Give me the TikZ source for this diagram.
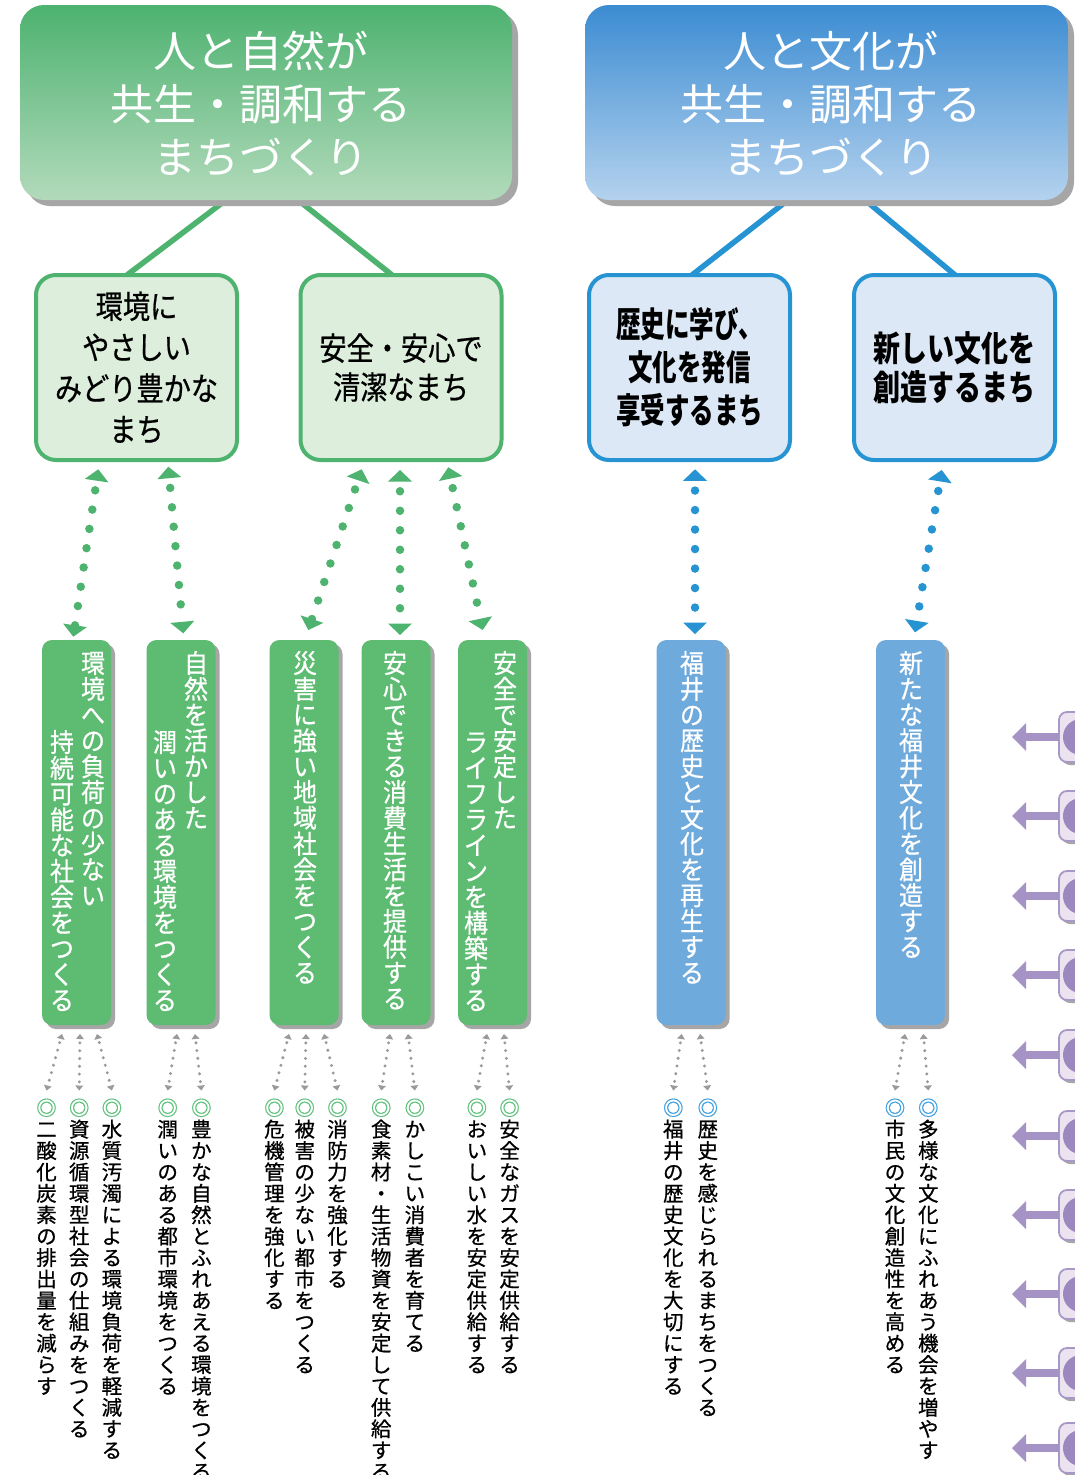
\documentclass[tikz,border=0pt]{standalone}
\usepackage{fontspec}
\usetikzlibrary{arrows.meta,calc,shadows,backgrounds}
\setmainfont{Noto Sans CJK JP}
\newfontfamily\jp{Noto Sans CJK JP}
\newfontfamily\jpb[FakeBold=0.7]{Noto Sans CJK JP}
\newfontfamily\jpa[FakeStretch=0.85,FakeBold=0.6]{Noto Sans CJK JP}
\newfontfamily\jpc[FakeStretch=0.70]{Noto Sans CJK JP}
\newfontfamily\jpd[FakeStretch=0.77]{Noto Sans CJK JP}
\newfontfamily\jpv[FakeStretch=0.92,FakeBold=0.7]{Noto Sans CJK JP}

\definecolor{gline}{HTML}{4DB36E}
\definecolor{gbar}{HTML}{5EBC72}
\definecolor{glight}{HTML}{DDEEDD}
\definecolor{gtop}{HTML}{4DB270}
\definecolor{gbot}{HTML}{B2DABB}
\definecolor{bline}{HTML}{2693D3}
\definecolor{bbar}{HTML}{6FAADC}
\definecolor{blight}{HTML}{DCE8F6}
\definecolor{btop}{HTML}{3C8CD2}
\definecolor{bbot}{HTML}{B4D2EE}
\definecolor{shadowgray}{HTML}{A6A6A6}
\definecolor{dotgray}{HTML}{9A9A9A}
\definecolor{gcirc}{HTML}{5CC07A}
\definecolor{bcirc}{HTML}{3C9FE0}
\definecolor{parrow}{HTML}{A493C4}
\definecolor{pfill}{HTML}{ECE3F0}
\definecolor{pborder}{HTML}{A898C8}
\definecolor{pcirc}{HTML}{9C88BF}

\ExplSyntaxOn
\NewDocumentCommand\vstack{mm}
  {
    \vtop
      {
        \baselineskip=#1pt
        \lineskiplimit=-1000pt
        \lineskip=0pt
        \tl_map_inline:nn {#2}
          { \hbox_to_wd:nn {#1pt} { \hss \rule[-0.12em]{0pt}{1em} ##1 \hss } }
      }
  }
\ExplSyntaxOff

\begin{document}
\begin{tikzpicture}[x=1pt,y=-1pt,
  every node/.style={inner sep=0pt, outer sep=0pt},
  topbox/.style={rounded corners=24pt, minimum height=195pt,
    drop shadow={shadow xshift=6pt, shadow yshift=-6pt, opacity=1, fill=shadowgray}},
  toptext/.style={text=white, align=center, font=\jp\fontsize{43}{53}\selectfont},
  lvl/.style={line width=4pt, rounded corners=20pt, minimum width=201pt, minimum height=185pt, align=center},
  lvlg/.style={lvl, draw=gline, fill=glight},
  lvlb/.style={lvl, draw=bline, fill=blight},
  bar/.style={rounded corners=10pt, minimum width=69pt, minimum height=385pt,
    drop shadow={shadow xshift=4pt, shadow yshift=-4pt, opacity=1, fill=shadowgray}},
  barg/.style={bar, fill=gbar},
  barb/.style={bar, fill=bbar},
  vt/.style={anchor=north, text=white, font=\jpv\fontsize{26}{26}\selectfont},
  bt/.style={anchor=north, text=black, font=\jpb\fontsize{20.5}{21}\selectfont},
  darr/.style={line width=8.5pt, dash pattern=on 0pt off 19.5pt, dash phase=9.75pt, line cap=round,
    {Triangle[width=24pt,length=11.5pt,line width=0pt]}-{Triangle[width=24pt,length=11.5pt,line width=0pt]}},
  garr/.style={dotgray, line width=3.3pt, dash pattern=on 0pt off 7.8pt, dash phase=3.9pt, line cap=round,
    {Triangle[width=8pt,length=5pt,line width=0pt]}-{Triangle[width=8pt,length=5pt,line width=0pt]}},
  parr/.style={parrow, line width=8pt, -{Triangle[width=28pt,length=14pt,line width=0pt]}},
  pbox/.style={anchor=west, draw=pborder, line width=1.8pt, fill=pfill, rounded corners=8pt,
    minimum width=70pt, minimum height=50pt,
    drop shadow={shadow xshift=3pt, shadow yshift=-3pt, opacity=1, fill=shadowgray}}
]
\useasboundingbox (0,0) rectangle (1075,1475);
\clip (0,0) rectangle (1075,1475);

% ---- top boxes
\node[topbox, top color=gtop, bottom color=gbot, minimum width=492pt] (t1) at (266,102.5) {};
\node[toptext] (t1l) at (261,104) {人と自然が\\共生・調和する\\まちづくり};
\node[topbox, top color=btop, bottom color=bbot, minimum width=483pt] (t2) at (826.5,102.5) {};
\node[toptext] (t2l) at (831,104) {人と文化が\\共生・調和する\\まちづくり};

% ---- second level
\node[lvlg, font=\jpa\fontsize{32}{41}\selectfont] (la) at (136.5,367.5) {環境に\\やさしい\\みどり豊かな\\まち};
\node[lvlg, font=\jpa\fontsize{32}{39}\selectfont] (lb) at (401,367.5) {安全・安心で\\清潔なまち};
\node[lvlb, font=\jpc\bfseries\fontsize{35}{43}\selectfont] (lc) at (689.5,367.5) {歴史に学び、\\文化を発信\\享受するまち};
\node[lvlb, font=\jpd\bfseries\fontsize{35}{39}\selectfont] (ld) at (954.5,367.5) {新しい文化を\\創造するまち};

\begin{scope}[on background layer]
  \fill[white] (0,0) rectangle (1075,1475);
  \draw[gline, line width=5.5pt] ($(t1.south)+(-40,0)$) -- ($(la.north)+(-9.5,0)$);
  \draw[gline, line width=5.5pt] ($(t1.south)+(32,0)$) -- ($(lb.north)+(-9,0)$);
  \draw[bline, line width=5.5pt] ($(t2.south)+(-38.5,0)$) -- ($(lc.north)+(2.5,0)$);
  \draw[bline, line width=5.5pt] ($(t2.south)+(38.5,0)$) -- ($(ld.north)+(0.5,0)$);
\end{scope}

% ---- bars
\node[barg] (bar1) at (76.5,832.5) {};
\node[barg] (bar2) at (181,832.5) {};
\node[barg] (bar3) at (304,832.5) {};
\node[barg] (bar4) at (396,832.5) {};
\node[barg] (bar5) at (492.5,832.5) {};
\node[barb] (bar6) at (691,832.5) {};
\node[barb] (bar7) at (910.5,832.5) {};

\node[vt] (v1a) at (93,650) {\vstack{25.8}{環境への負荷の少ない}};
\node[vt] (v1b) at (62,729) {\vstack{25.8}{持続可能な社会をつくる}};
\node[vt] (v2a) at (196,650) {\vstack{25.8}{自然を活かした}};
\node[vt] (v2b) at (165,729) {\vstack{25.8}{潤いのある環境をつくる}};
\node[vt] (v3) at (305,650) {\vstack{25.8}{災害に強い地域社会をつくる}};
\node[vt] (v4) at (395,650) {\vstack{25.8}{安心できる消費生活を提供する}};
\node[vt] (v5a) at (505,650) {\vstack{25.8}{安全で安定した}};
\node[vt] (v5b) at (476,729) {\vstack{25.8}{ライフラインを構築する}};
\node[vt] (v6) at (692,650) {\vstack{25.8}{福井の歴史と文化を再生する}};
\node[vt] (v7) at (911,650) {\vstack{25.8}{新たな福井文化を創造する}};

% ---- dotted arrows level 2 -> bars
\draw[darr, gline] ($(la.south)+(-38.2,9.3)$) -- ($(bar1.north)+(-3.2,-3.3)$);
\draw[darr, gline] ($(la.south)+(31.8,6.7)$) -- ($(bar2.north)+(2.3,-6.7)$);
\draw[darr, gline] ($(lb.south)+(-39.3,9.3)$) -- ($(bar3.north)+(4.3,-10)$);
\draw[darr, gline] ($(lb.south)+(-1,10)$) -- ($(bar4.north)+(4,-5)$);
\draw[darr, gline] ($(lb.south)+(47.3,7.3)$) -- ($(bar5.north)+(-9.8,-10)$);
\draw[darr, bline] ($(lc.south)+(5.5,9.3)$) -- ($(bar6.north)+(4,-6)$);
\draw[darr, bline] ($(ld.south)+(-12.8,10)$) -- ($(bar7.north)+(4.5,-7.7)$);

% ---- bottom columns
\node[bt] (col1) at (46.5,1097.5) {\vstack{21.4}{{\color{gcirc}◎}二酸化炭素の排出量を減らす}};
\node[bt] (col2) at (79.2,1097.5) {\vstack{21.4}{{\color{gcirc}◎}資源循環型社会の仕組みをつくる}};
\node[bt] (col3) at (111.9,1097.5) {\vstack{21.4}{{\color{gcirc}◎}水質汚濁による環境負荷を軽減する}};
\node[bt] (col4) at (167.7,1097.5) {\vstack{21.4}{{\color{gcirc}◎}潤いのある都市環境をつくる}};
\node[bt] (col5) at (201.4,1097.5) {\vstack{21.4}{{\color{gcirc}◎}豊かな自然とふれあえる環境をつくる}};
\node[bt] (col6) at (274.4,1097.5) {\vstack{21.4}{{\color{gcirc}◎}危機管理を強化する}};
\node[bt] (col7) at (304.7,1097.5) {\vstack{21.4}{{\color{gcirc}◎}被害の少ない都市をつくる}};
\node[bt] (col8) at (337.5,1097.5) {\vstack{21.4}{{\color{gcirc}◎}消防力を強化する}};
\node[bt] (col9) at (381.2,1097.5) {\vstack{21.4}{{\color{gcirc}◎}食素材・生活物資を安定して供給する}};
\node[bt] (col10) at (414.9,1097.5) {\vstack{21.4}{{\color{gcirc}◎}かしこい消費者を育てる}};
\node[bt] (col11) at (476.9,1097.5) {\vstack{21.4}{{\color{gcirc}◎}おいしい水を安定供給する}};
\node[bt] (col12) at (509.6,1097.5) {\vstack{21.4}{{\color{gcirc}◎}安全なガスを安定供給する}};
\node[bt] (col13) at (673.3,1097.5) {\vstack{21.4}{{\color{bcirc}◎}福井の歴史文化を大切にする}};
\node[bt] (col14) at (707.8,1097.5) {\vstack{21.4}{{\color{bcirc}◎}歴史を感じられるまちをつくる}};
\node[bt] (col15) at (895,1097.5) {\vstack{21.4}{{\color{bcirc}◎}市民の文化創造性を高める}};
\node[bt] (col16) at (928.3,1097.5) {\vstack{21.4}{{\color{bcirc}◎}多様な文化にふれあう機会を増やす}};

% ---- gray dotted arrows bars -> columns
\draw[garr] ($(bar1.south)+(-14.5,9)$) -- ($(col1.north)+(0,-7)$);
\draw[garr] ($(bar1.south)+(3.5,9)$) -- ($(col2.north)+(0,-7)$);
\draw[garr] ($(bar1.south)+(20.5,9)$) -- ($(col3.north)+(0,-7)$);
\draw[garr] ($(bar2.south)+(-4,9)$) -- ($(col4.north)+(0,-7)$);
\draw[garr] ($(bar2.south)+(14,9)$) -- ($(col5.north)+(0,-7)$);
\draw[garr] ($(bar3.south)+(-15,9)$) -- ($(col6.north)+(0,-7)$);
\draw[garr] ($(bar3.south)+(2,9)$) -- ($(col7.north)+(0,-7)$);
\draw[garr] ($(bar3.south)+(20,9)$) -- ($(col8.north)+(0,-7)$);
\draw[garr] ($(bar4.south)+(-6,9)$) -- ($(col9.north)+(0,-7)$);
\draw[garr] ($(bar4.south)+(12,9)$) -- ($(col10.north)+(0,-7)$);
\draw[garr] ($(bar5.south)+(-5.5,9)$) -- ($(col11.north)+(0,-7)$);
\draw[garr] ($(bar5.south)+(11.5,9)$) -- ($(col12.north)+(0,-7)$);
\draw[garr] ($(bar6.south)+(-9.3,9)$) -- ($(col13.north)+(0,-7)$);
\draw[garr] ($(bar6.south)+(9,9)$) -- ($(col14.north)+(0,-7)$);
\draw[garr] ($(bar7.south)+(-5.5,9)$) -- ($(col15.north)+(0,-7)$);
\draw[garr] ($(bar7.south)+(12.8,9)$) -- ($(col16.north)+(0,-7)$);

% ---- purple boxes on the right edge
\foreach \yy [count=\i] in {737,816,896,975,1055,1136,1215,1294,1373,1448} {
  \node[pbox] (p\i) at (1059,\yy) {};
  \fill[pcirc] ($(p\i.west)+(22,0)$) circle (18pt);
  \coordinate (pe\i) at ($(p\i.west)+(-47,0)$);
  \draw[parr] (p\i.west) -- (pe\i);
}
\end{tikzpicture}
\end{document}
